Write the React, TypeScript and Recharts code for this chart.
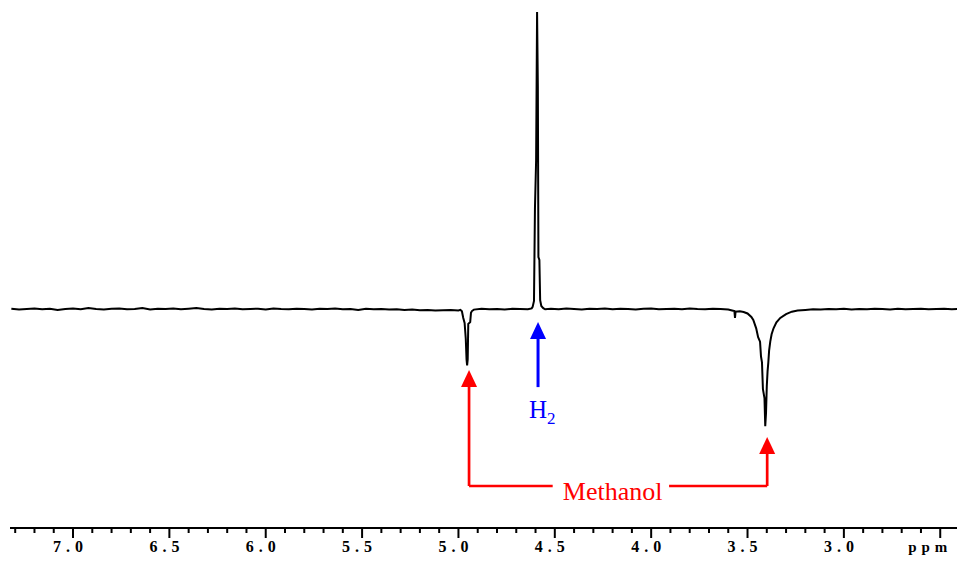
import { LineChart, Line, XAxis, YAxis, ReferenceLine, ReferenceDot } from 'recharts';

// chemical shift (ppm) and intensity (H2 peak = 100)
const ppm = [
  7.32, 7.28, 7.24, 7.2, 7.16, 7.12, 7.08, 7.04, 7.0, 6.96, 6.92, 6.88, 6.84, 6.8, 6.76, 6.72,
  6.68, 6.64, 6.6, 6.56, 6.52, 6.48, 6.44, 6.4, 6.36, 6.32, 6.28, 6.24, 6.2, 6.16, 6.12, 6.08,
  6.04, 6.0, 5.96, 5.92, 5.88, 5.84, 5.8, 5.76, 5.72, 5.68, 5.64, 5.6, 5.56, 5.52, 5.48, 5.44,
  5.4, 5.36, 5.32, 5.28, 5.24, 5.2, 5.16, 5.12, 5.08, 5.04, 5.0,
  4.99, 4.982, 4.975, 4.968, 4.962, 4.958, 4.955, 4.952, 4.949, 4.944, 4.939, 4.935, 4.93, 4.92,
  4.88, 4.84, 4.8, 4.76, 4.72, 4.68, 4.64, 4.62,
  4.615, 4.608, 4.603, 4.597, 4.592, 4.588, 4.585, 4.58, 4.576, 4.57, 4.56, 4.55,
  4.52, 4.48, 4.44, 4.4, 4.36, 4.32, 4.28, 4.24, 4.2, 4.16, 4.12, 4.08, 4.04, 4.0, 3.96, 3.92,
  3.88, 3.84, 3.8, 3.76, 3.72, 3.68, 3.64, 3.6,
  3.58, 3.568, 3.565, 3.562, 3.54, 3.52, 3.5, 3.48, 3.47, 3.455, 3.445, 3.435, 3.43, 3.425, 3.42,
  3.412, 3.408, 3.404, 3.4, 3.396, 3.392, 3.388, 3.382, 3.375, 3.365, 3.35, 3.33, 3.3, 3.27, 3.24,
  3.2, 3.16, 3.12, 3.08, 3.04, 3.0, 2.96, 2.92, 2.88, 2.84, 2.8, 2.76, 2.72, 2.68, 2.64, 2.6,
  2.56, 2.52, 2.48, 2.44, 2.41,
];

const intensity = [
  0.1, -0.2, 0.0, 0.2, -0.1, 0.1, -0.3, 0.0, 0.2, -0.1, 0.3, 0.0, -0.2, 0.1, 0.2, -0.1,
  0.0, 0.3, -0.2, 0.1, 0.0, 0.2, -0.1, 0.1, 0.3, 0.0, -0.2, 0.1, 0.0, 0.2, -0.1, 0.0,
  0.1, -0.2, 0.2, 0.0, -0.1, 0.1, 0.0, -0.2, 0.1, 0.0, 0.2, -0.1, 0.0, -0.3, 0.1, -0.1,
  0.0, -0.2, -0.1, -0.3, -0.2, -0.4, -0.3, -0.5, -0.4, -0.3, -0.5,
  -0.3, -0.8, -3.0, -4.7, -10, -17, -19, -17, -5, -4.7, -4.4, -1.3, -0.7, -0.2,
  0.1, -0.1, 0.0, -0.2, 0.1, 0.0, -0.1, 0.2,
  0.7, 2.7, 34, 50, 100, 75, 17.5, 16.5, 3, 1.0, 0.3, -0.1,
  0.1, -0.1, 0.2, 0.0, -0.2, 0.1, 0.0, 0.2, -0.1, 0.1, 0.0, -0.2, 0.1, 0.2, -0.1, 0.0,
  0.1, -0.1, 0.2, 0.0, -0.1, 0.1, 0.0, -0.2,
  -0.5, -0.7, -3.0, -0.9, -0.8, -1.0, -1.5, -2.7, -3.7, -6.5, -9.5, -11, -16, -18, -27,
  -30, -39.5, -35, -26, -21, -18, -14, -11, -8.5, -6.5, -4.5, -3.0, -1.7, -0.9, -0.5,
  -0.3, -0.1, -0.2, 0.0, -0.1, 0.1, -0.2, 0.0, -0.1, 0.1, 0.0, -0.2, 0.1, -0.1, 0.0, 0.1,
  -0.1, 0.0, 0.1, -0.1, 0.0,
];

const spectrum = ppm.map((p, i) => ({ ppm: p, value: intensity[i] }));

const MAJOR_TICKS = [7.0, 6.5, 6.0, 5.5, 5.0, 4.5, 4.0, 3.5, 3.0, 2.5];
const MAJOR_LABELS = ['7.0', '6.5', '6.0', '5.5', '5.0', '4.5', '4.0', '3.5', '3.0', 'ppm'];

// minor ticks every 0.1 ppm
const allTicks = Array.from({ length: 49 }, (_, i) => Math.round((7.3 - i * 0.1) * 10) / 10);

// annotation anchors (ppm, intensity)
const H2_ARROW = { x: 4.587, tip: -4.4, tail: -26.3, label: -36.7 };
const MEOH_LEFT = { x: 4.945, tip: -20.5 };
const MEOH_RIGHT = { x: 3.398, tip: -43.1 };
const MEOH_BAR = -59.6;
const MEOH_TEXT = { x: 4.2, y: -64.3, gapLeft: 4.511, gapRight: 3.907 };

const serif = '"Liberation Serif", "Times New Roman", serif';

function PpmTick(props: any) {
  const { x, y, payload } = props;
  const v = payload.value;
  const idx = MAJOR_TICKS.findIndex((m) => Math.abs(m - v) < 1e-6);
  const major = idx >= 0;
  const label = major ? MAJOR_LABELS[idx] : null;
  const isUnit = label === 'ppm';
  return (
    <g>
      <line x1={x} x2={x} y1={y} y2={y + (major ? 10 : 5)} stroke="#000" strokeWidth={2} />
      {label && (
        <text
          x={x + (isUnit ? -10 : -2.5)}
          y={y + 24}
          textAnchor="middle"
          fontFamily={serif}
          fontWeight="bold"
          fontSize={isUnit ? 15 : 16}
          letterSpacing={isUnit ? 5 : 5}
          fill="#000"
        >
          {label}
        </text>
      )}
    </g>
  );
}

const arrowHead = (color: string) => (p: any) => (
  <polygon
    points={`${p.cx},${p.cy} ${p.cx - 8},${p.cy + 17} ${p.cx + 8},${p.cy + 17}`}
    fill={color}
  />
);

export default function App() {
  return (
    <div style={{ position: 'absolute', left: 0, top: 0, background: '#fff' }}>
      <LineChart
        width={957}
        height={564}
        data={spectrum}
        margin={{ top: 0, right: 0, bottom: 0, left: 10 }}
      >
        <XAxis
          dataKey="ppm"
          type="number"
          domain={[2.413, 7.327]}
          reversed
          allowDataOverflow
          ticks={allTicks}
          interval={0}
          tickSize={0}
          tickMargin={0}
          tickLine={false}
          height={36}
          axisLine={{ stroke: '#000', strokeWidth: 2 }}
          tick={<PpmTick />}
        />
        <YAxis hide type="number" domain={[-73.74, 104.04]} allowDataOverflow />
        <Line
          type="linear"
          dataKey="value"
          stroke="#000"
          strokeWidth={2}
          dot={false}
          isAnimationActive={false}
        />

        {/* H2 arrow */}
        <ReferenceLine
          segment={[{ x: H2_ARROW.x, y: H2_ARROW.tail }, { x: H2_ARROW.x, y: H2_ARROW.tip - 4 }]}
          stroke="#0000ff"
          strokeWidth={3}
        />
        <ReferenceDot x={H2_ARROW.x} y={H2_ARROW.tip} r={0} shape={arrowHead('#0000ff')} />
        <ReferenceDot
          x={H2_ARROW.x}
          y={H2_ARROW.label}
          r={0}
          shape={(p: any) => (
            <text x={p.cx - 9} y={p.cy} fontFamily={serif} fontSize={25} fill="#0000ff">
              H<tspan fontSize={17} dy={6}>2</tspan>
            </text>
          )}
        />

        {/* Methanol bracket */}
        <ReferenceLine
          segment={[{ x: MEOH_LEFT.x, y: MEOH_LEFT.tip - 4 }, { x: MEOH_LEFT.x, y: MEOH_BAR }]}
          stroke="#ff0000"
          strokeWidth={2.7}
        />
        <ReferenceLine
          segment={[{ x: MEOH_LEFT.x, y: MEOH_BAR }, { x: MEOH_TEXT.gapLeft, y: MEOH_BAR }]}
          stroke="#ff0000"
          strokeWidth={2.7}
        />
        <ReferenceLine
          segment={[{ x: MEOH_TEXT.gapRight, y: MEOH_BAR }, { x: MEOH_RIGHT.x, y: MEOH_BAR }]}
          stroke="#ff0000"
          strokeWidth={2.7}
        />
        <ReferenceLine
          segment={[{ x: MEOH_RIGHT.x, y: MEOH_BAR }, { x: MEOH_RIGHT.x, y: MEOH_RIGHT.tip - 4 }]}
          stroke="#ff0000"
          strokeWidth={2.7}
        />
        <ReferenceDot x={MEOH_LEFT.x} y={MEOH_LEFT.tip} r={0} shape={arrowHead('#ff0000')} />
        <ReferenceDot x={MEOH_RIGHT.x} y={MEOH_RIGHT.tip} r={0} shape={arrowHead('#ff0000')} />
        <ReferenceDot
          x={MEOH_TEXT.x}
          y={MEOH_TEXT.y}
          r={0}
          shape={(p: any) => (
            <text x={p.cx} y={p.cy} textAnchor="middle" fontFamily={serif} fontSize={26} fill="#ff0000">
              Methanol
            </text>
          )}
        />
      </LineChart>
    </div>
  );
}
